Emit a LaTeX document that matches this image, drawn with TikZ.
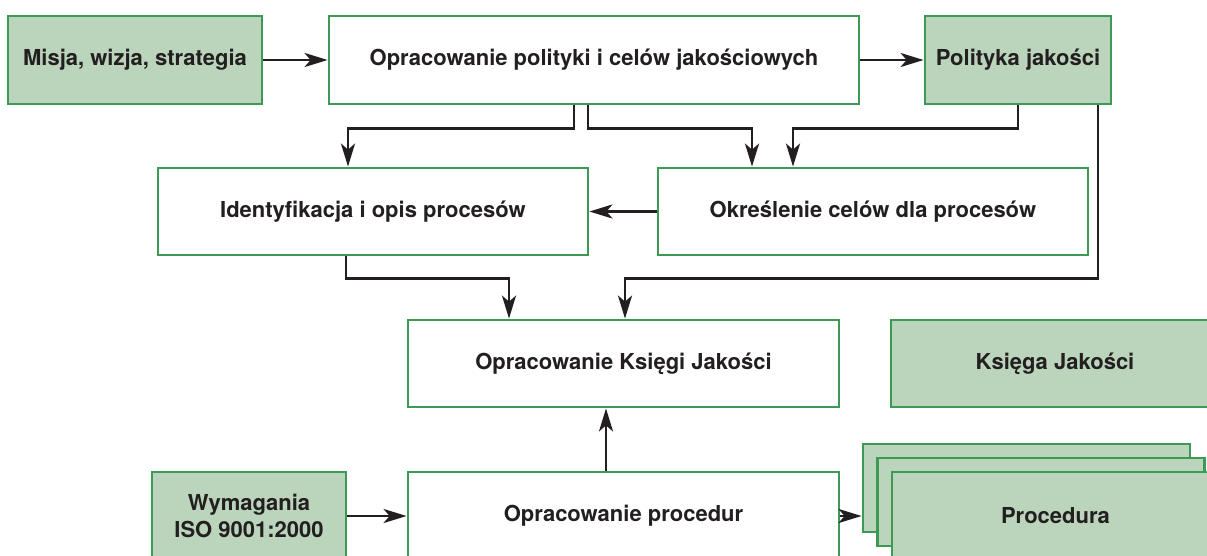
\documentclass[tikz,border=0pt]{standalone}
\usepackage{fontspec}
\setmainfont{TeX Gyre Heros}
\usetikzlibrary{arrows.meta}
\definecolor{boxgreen}{HTML}{3C9A55}
\definecolor{boxfill}{HTML}{BAD5BB}
\definecolor{linkc}{HTML}{231F20}

\begin{document}
\begin{tikzpicture}[x=1pt,y=-1pt,
  box/.style={draw=boxgreen, line width=2.8pt, fill=white, inner sep=0pt,
    align=center, text=linkc, font=\fontsize{22}{27}\selectfont\bfseries},
  docbox/.style={box, fill=boxfill},
  arr/.style={draw=linkc, line width=2.8pt,
    -{Stealth[length=23pt,width=14pt,inset=6pt]}}]
\useasboundingbox (0,0) rectangle (1207,555);
\clip (0,0) rectangle (1207,555);

% top row
\node[docbox, minimum width=254pt, minimum height=88pt] (misja) at (135,60) {Misja, wizja, strategia};
\node[box, minimum width=530pt, minimum height=88pt] (opp) at (594,60) {Opracowanie polityki i celów jakościowych};
\node[docbox, minimum width=186pt, minimum height=88pt] (pol) at (1018,60) {Polityka jakości};

% second row
\node[box, minimum width=430pt, minimum height=87pt] (ident) at (373,211.5) {Identyfikacja i opis procesów};
\node[box, minimum width=430pt, minimum height=87pt] (okr) at (873,211.5) {Określenie celów dla procesów};

% third row
\node[box, minimum width=431pt, minimum height=87pt] (ksiegi) at (623.5,363.5) {Opracowanie Księgi Jakości};
\node[docbox, minimum width=328pt, minimum height=87pt] (ksiega) at (1055,363.5) {Księga Jakości};

% bottom row
\node[docbox, minimum width=194pt, minimum height=88pt] (wym) at (249,516) {Wymagania\\ISO 9001:2000};
\node[box, minimum width=431pt, minimum height=88pt] (proc) at (623.5,516) {Opracowanie procedur};
\node[docbox, minimum width=327pt, minimum height=88pt] (pr1) at (1026.5,488) {};
\node[docbox, minimum width=327pt, minimum height=88pt] (pr2) at (1041,502) {};
\node[docbox, minimum width=327pt, minimum height=88pt] (pr3) at (1055.5,516) {Procedura};

% connectors
\draw[arr] (misja) -- (opp);
\draw[arr] (opp) -- (pol);
\draw[arr] ([xshift=-20pt]opp.south) -- ++(0,23) -| ([xshift=-25pt]ident.north);
\draw[arr] ([xshift=-6pt]opp.south) -- ++(0,23) -| ([xshift=-121pt]okr.north);
\draw[arr] (pol.south) -- ++(0,23) -| ([xshift=-80pt]okr.north);
\draw[arr] ([xshift=80pt]pol.south) -- ++(0,173) -| ([xshift=1.5pt]ksiegi.north);
\draw[arr] ([xshift=-27pt]ident.south) -- ++(0,22) -| ([xshift=-114.5pt]ksiegi.north);
\draw[arr] (okr.west) -- (ident.east);
\draw[arr] ([xshift=-17.5pt]proc.north) -- ([xshift=-17.5pt]ksiegi.south);
\draw[arr] (wym) -- (proc);
\draw[arr] (proc.east) -- (pr1.west |- proc.east);
\end{tikzpicture}
\end{document}
